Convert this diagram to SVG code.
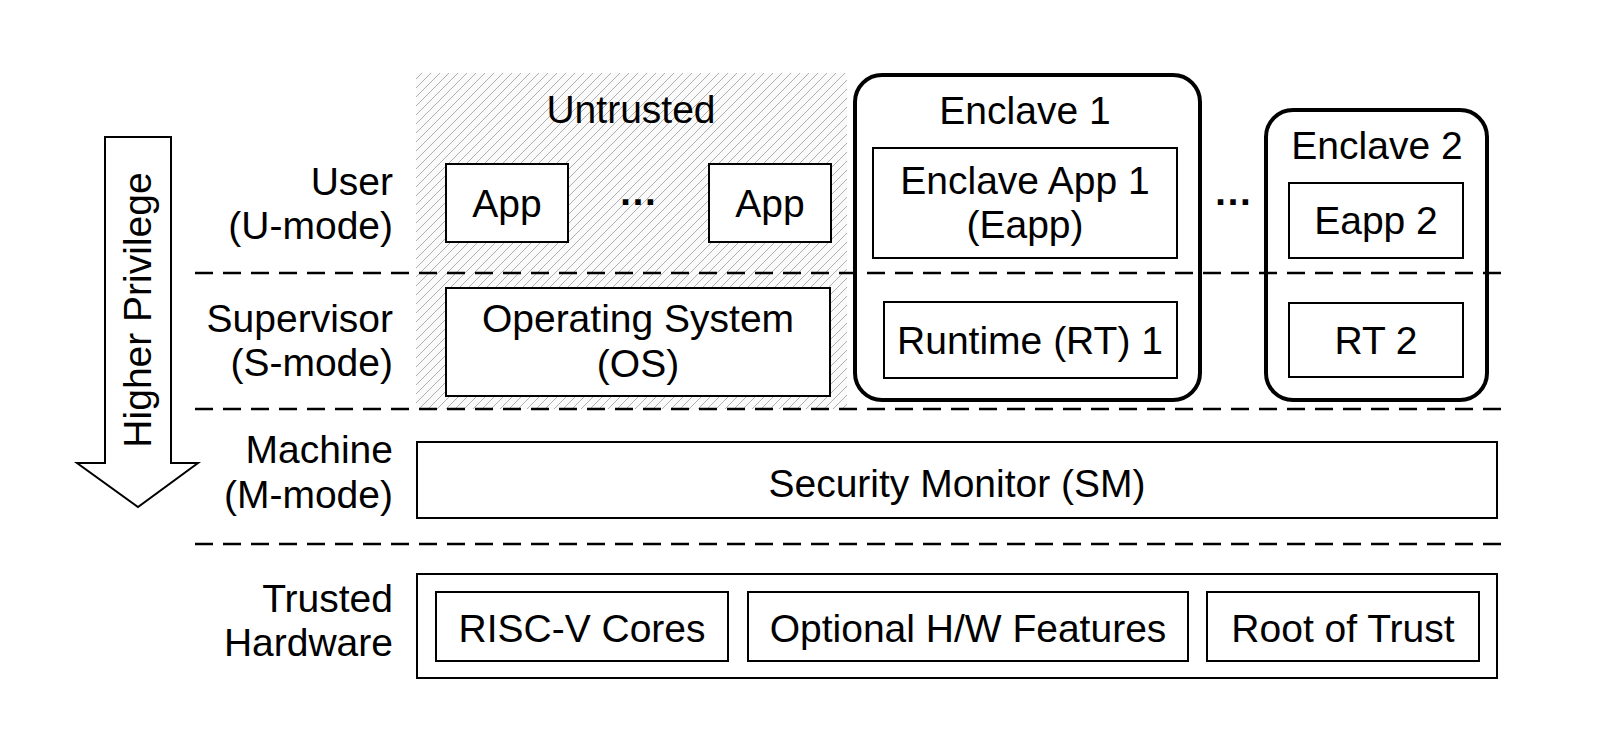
<svg xmlns="http://www.w3.org/2000/svg" width="1599" height="746" viewBox="0 0 1599 746">
  <defs>
    <pattern id="hatch" patternUnits="userSpaceOnUse" width="9" height="9">
      <rect width="9" height="9" fill="#fafafa"/>
      <path d="M-2,2 L2,-2 M0,9 L9,0 M7,11 L11,7" stroke="#b0b0b0" stroke-width="1"/>
    </pattern>
  </defs>
  <style>
    text { font-family: "Liberation Sans", Arial, Helvetica, sans-serif; font-size: 39px; fill: #000; }
    .c { text-anchor: middle; }
    .r { text-anchor: end; }
    .dots { font-weight: bold; }
    .box { fill: #fff; stroke: #000; stroke-width: 2; }
    .encl { fill: none; stroke: #000; stroke-width: 4; }
    .dash { stroke: #000; stroke-width: 2.5; stroke-dasharray: 18 10; fill: none; }
  </style>
  <rect width="1599" height="746" fill="#fff"/>

  <g id="untrusted-region">
    <rect x="416" y="73" width="431" height="336" fill="url(#hatch)"/>
    <text class="c" x="631" y="123">Untrusted</text>
  </g>

  <g id="layer-lines">
    <line class="dash" x1="195" y1="273" x2="1508" y2="273"/>
    <line class="dash" x1="195" y1="409" x2="1508" y2="409"/>
    <line class="dash" x1="195" y1="544" x2="1508" y2="544"/>
  </g>

  <g id="privilege-arrow">
    <polygon points="105,137 171,137 171,463 198,463 138,507 77,463 105,463" fill="#fff" stroke="#000" stroke-width="2" stroke-linejoin="miter"/>
    <text class="c" transform="translate(151,310) rotate(-90)">Higher Privilege</text>
  </g>

  <g id="mode-labels">
    <text class="r" x="393" y="195">User</text>
    <text class="r" x="393" y="239">(U-mode)</text>
    <text class="r" x="393" y="332">Supervisor</text>
    <text class="r" x="393" y="376">(S-mode)</text>
    <text class="r" x="393" y="463">Machine</text>
    <text class="r" x="393" y="508">(M-mode)</text>
    <text class="r" x="393" y="612">Trusted</text>
    <text class="r" x="393" y="656">Hardware</text>
  </g>

  <g id="app1">
    <rect class="box" x="446" y="164" width="122" height="78"/>
    <text class="c" x="507" y="217">App</text>
  </g>
  <g id="app-ellipsis">
    <text class="c dots" x="638" y="205">…</text>
  </g>
  <g id="app2">
    <rect class="box" x="709" y="164" width="122" height="78"/>
    <text class="c" x="770" y="217">App</text>
  </g>
  <g id="os">
    <rect class="box" x="446" y="288" width="384" height="108"/>
    <text class="c" x="638" y="332">Operating System</text>
    <text class="c" x="638" y="377">(OS)</text>
  </g>

  <g id="enclave1">
    <rect class="encl" x="855" y="75" width="345" height="325" rx="27" ry="27"/>
    <text class="c" x="1025" y="124">Enclave 1</text>
  </g>
  <g id="eapp1">
    <rect class="box" x="873" y="148" width="304" height="110"/>
    <text class="c" x="1025" y="194">Enclave App 1</text>
    <text class="c" x="1025" y="238">(Eapp)</text>
  </g>
  <g id="rt1">
    <rect class="box" x="884" y="302" width="293" height="76"/>
    <text class="c" x="1030" y="354">Runtime (RT) 1</text>
  </g>

  <g id="enclave-ellipsis">
    <text class="c dots" x="1233" y="205">…</text>
  </g>

  <g id="enclave2">
    <rect class="encl" x="1266" y="110" width="221" height="290" rx="27" ry="27"/>
    <text class="c" x="1377" y="159">Enclave 2</text>
  </g>
  <g id="eapp2">
    <rect class="box" x="1289" y="183" width="174" height="75"/>
    <text class="c" x="1376" y="234">Eapp 2</text>
  </g>
  <g id="rt2">
    <rect class="box" x="1289" y="303" width="174" height="74"/>
    <text class="c" x="1376" y="354">RT 2</text>
  </g>

  <g id="sm">
    <rect class="box" x="417" y="442" width="1080" height="76"/>
    <text class="c" x="957" y="497">Security Monitor (SM)</text>
  </g>

  <g id="trusted-hw">
    <rect class="box" x="417" y="574" width="1080" height="104"/>
  </g>
  <g id="riscv">
    <rect class="box" x="436" y="592" width="292" height="69"/>
    <text class="c" x="582" y="642">RISC-V Cores</text>
  </g>
  <g id="optional-hw">
    <rect class="box" x="748" y="592" width="440" height="69"/>
    <text class="c" x="968" y="642">Optional H/W Features</text>
  </g>
  <g id="root-of-trust">
    <rect class="box" x="1207" y="592" width="272" height="69"/>
    <text class="c" x="1343" y="642">Root of Trust</text>
  </g>
</svg>
